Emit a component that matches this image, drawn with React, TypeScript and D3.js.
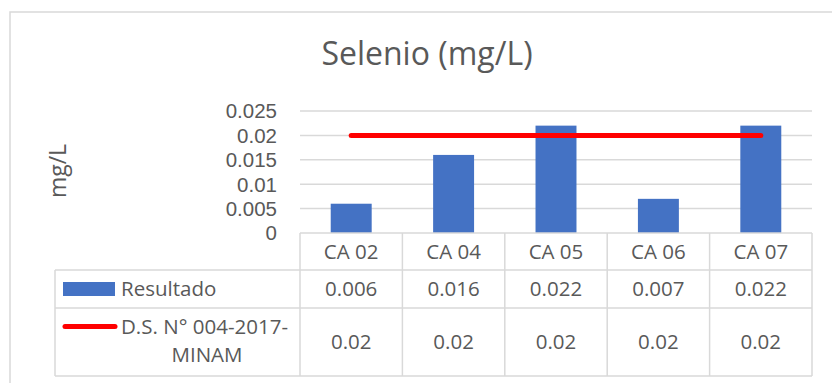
import React from "react";
import * as d3 from "d3";

const categories = ["CA 02", "CA 04", "CA 05", "CA 06", "CA 07"];
const resultado = [0.006, 0.016, 0.022, 0.007, 0.022];
const norma = [0.02, 0.02, 0.02, 0.02, 0.02];
const yTicks = [0, 0.005, 0.01, 0.015, 0.02, 0.025];
const yTickLabels = ["0", "0.005", "0.01", "0.015", "0.02", "0.025"];
const seriesNames = ["Resultado", "D.S. N° 004-2017-", "MINAM"];
const title = "Selenio (mg/L)";
const yTitle = "mg/L";

const W = 832, H = 383;
const plotL = 300, plotR = 812, plotT = 111, plotB = 233;
const row1B = 270, row2B = 308, row3B = 376;
const legendL = 55;
const FONT = "'Open Sans', 'Noto Sans', sans-serif";
const TICKFONT = "'Liberation Sans', Arial, sans-serif";
const TXT = "#595959";
const GRID = "#d9d9d9";
const BLUE = "#4472C4";
const RED = "#FF0000";
const FS = 20.5;

export default function App() {
  const x = d3.scaleBand<string>().domain(categories).range([plotL, plotR]).paddingInner(0).paddingOuter(0);
  const y = d3.scaleLinear().domain([0, 0.025]).range([plotB, plotT]);
  const bw = x.bandwidth() * 0.4;
  const line = d3.line<number>()
    .x((_, i) => (x(categories[i]) as number) + x.bandwidth() / 2)
    .y((d) => y(d));
  const colEdges = categories.map((c) => x(c) as number).concat([plotR]);
  const fmt = (v: number) => d3.format("")(v);

  return (
    <svg width={W} height={H} style={{ position: "absolute", left: 0, top: 0, background: "#fff" }} fontFamily={FONT}>
      <rect x={0} y={0} width={W} height={H} fill="#fff" />
      {/* outer chart border */}
      <rect x={10} y={12} width={W + 20} height={H + 20} fill="none" stroke={GRID} strokeWidth={1.5} />
      {/* title */}
      <text x={427} y={65} textAnchor="middle" fontSize={32} fill={TXT}>{title}</text>
      {/* y axis title */}
      <text transform={`translate(66,171) rotate(-90)`} textAnchor="middle" fontSize={23} fill={TXT}>{yTitle}</text>
      {/* gridlines */}
      {yTicks.filter((t) => t > 0).map((t) => (
        <line key={t} x1={plotL} x2={plotR} y1={y(t)} y2={y(t)} stroke={GRID} strokeWidth={1.5} />
      ))}
      {/* y tick labels */}
      {yTicks.map((t, i) => (
        <text key={t} x={277} y={y(t)} dy="0.36em" textAnchor="end" fontFamily={TICKFONT} fontSize={20.5} fill={TXT}>{yTickLabels[i]}</text>
      ))}
      {/* bars */}
      {resultado.map((v, i) => (
        <rect key={i} x={(x(categories[i]) as number) + (x.bandwidth() - bw) / 2} y={y(v)} width={bw} height={y(0) - y(v)} fill={BLUE} />
      ))}
      {/* norm line */}
      <path d={line(norma) || ""} fill="none" stroke={RED} strokeWidth={5} strokeLinecap="round" />
      {/* data table grid */}
      <line x1={plotL} x2={plotR} y1={plotB} y2={plotB} stroke={GRID} strokeWidth={1.5} />
      <line x1={legendL} x2={plotR} y1={row1B} y2={row1B} stroke={GRID} strokeWidth={1.5} />
      <line x1={legendL} x2={plotR} y1={row2B} y2={row2B} stroke={GRID} strokeWidth={1.5} />
      <line x1={legendL} x2={plotR} y1={row3B} y2={row3B} stroke={GRID} strokeWidth={1.5} />
      <line x1={legendL} x2={legendL} y1={row1B} y2={row3B} stroke={GRID} strokeWidth={1.5} />
      {colEdges.map((cx, i) => (
        <line key={i} x1={cx} x2={cx} y1={plotB} y2={row3B} stroke={GRID} strokeWidth={1.5} />
      ))}
      {/* category labels */}
      {categories.map((c) => (
        <text key={c} x={(x(c) as number) + x.bandwidth() / 2} y={(plotB + row1B) / 2} dy="0.35em" textAnchor="middle" fontSize={FS} fill={TXT}>{c}</text>
      ))}
      {/* values */}
      {resultado.map((v, i) => (
        <text key={i} x={(x(categories[i]) as number) + x.bandwidth() / 2} y={(row1B + row2B) / 2} dy="0.35em" textAnchor="middle" fontSize={FS} fill={TXT}>{fmt(v)}</text>
      ))}
      {norma.map((v, i) => (
        <text key={i} x={(x(categories[i]) as number) + x.bandwidth() / 2} y={(row2B + row3B) / 2} dy="0.35em" textAnchor="middle" fontSize={FS} fill={TXT}>{fmt(v)}</text>
      ))}
      {/* legend keys */}
      <rect x={63} y={282} width={52} height={14} fill={BLUE} />
      <text x={121} y={296} fontSize={FS} fill={TXT}>{seriesNames[0]}</text>
      <line x1={65} x2={115} y1={326.5} y2={326.5} stroke={RED} strokeWidth={5} strokeLinecap="round" />
      <text x={121} y={334} fontSize={FS} fill={TXT}>{seriesNames[1]}</text>
      <text x={207} y={362} textAnchor="middle" fontSize={FS} fill={TXT}>{seriesNames[2]}</text>
    </svg>
  );
}
